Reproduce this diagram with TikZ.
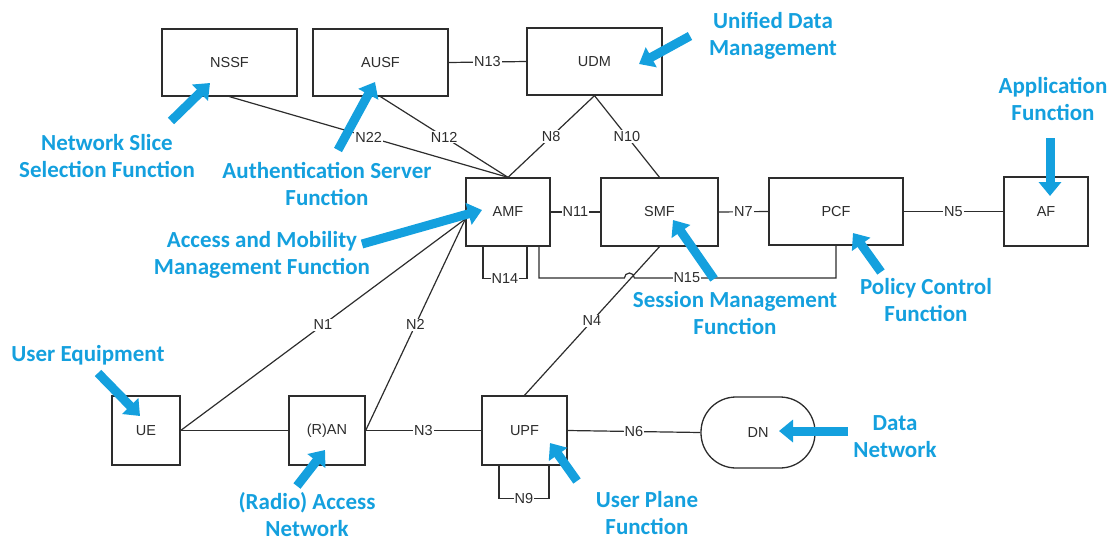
\documentclass[tikz,border=0pt]{standalone}
\usepackage{fontspec}
\setmainfont{Liberation Sans}
\newfontfamily\notefont{Carlito}
\usetikzlibrary{arrows.meta,calc}
\definecolor{nfline}{RGB}{45,45,45}
\definecolor{noteblue}{RGB}{20,160,222}

\tikzset{
  nf/.style={draw=nfline, line width=1.3pt, fill=white, inner sep=0pt,
    text=nfline, font=\fontsize{14.5}{16}\selectfont},
  link/.style={draw=nfline, line width=1.2pt},
  lbl/.style={fill=white, inner sep=1pt, text=nfline,
    font=\fontsize{14.5}{16}\selectfont},
  note/.style={text=noteblue, align=center, inner sep=0pt,
    font=\notefont\bfseries\fontsize{23}{27}\selectfont},
  pointer/.style={draw=noteblue, line width=9pt,
    -{Triangle[length=14pt,width=22pt]}},
}

\begin{document}
\begin{tikzpicture}[x=1pt,y=-1pt]
\useasboundingbox (0,0) rectangle (1110,544);

% network functions
\node[nf, minimum width=135pt, minimum height=67pt] (NSSF) at (229.5,62.5) {NSSF};
\node[nf, minimum width=135pt, minimum height=67pt] (AUSF) at (380.5,62.5) {AUSF};
\node[nf, minimum width=135pt, minimum height=67pt] (UDM)  at (594.5,61.5) {UDM};
\node[nf, minimum width=84pt,  minimum height=68pt] (AMF)  at (508,212) {AMF};
\node[nf, minimum width=117pt, minimum height=68pt] (SMF)  at (659.5,212) {SMF};
\node[nf, minimum width=134pt, minimum height=67pt] (PCF)  at (836,211.5) {PCF};
\node[nf, minimum width=84pt,  minimum height=69pt] (AF)   at (1046,211.5) {AF};
\node[nf, minimum width=68pt,  minimum height=69pt] (UE)   at (146,430.5) {UE};
\node[nf, minimum width=76pt,  minimum height=69pt] (RAN)  at (327,430.5) {(R)AN};
\node[nf, minimum width=85pt,  minimum height=69pt] (UPF)  at (524.5,430.5) {UPF};
\node[nf, minimum width=114pt, minimum height=71pt, rounded corners=35pt] (DN) at (758,432.5) {DN};

% reference points
\coordinate (amfIn) at ([yshift=-7pt]AMF.west);
\coordinate (hopL) at (624.4,278);
\coordinate (hopR) at (634.4,278);

% service interfaces
\draw[link] (NSSF.south) -- node[lbl]{N22} (AMF.north);
\draw[link] (AUSF.south) -- node[lbl]{N12} (AMF.north);
\draw[link] (UDM.south) -- node[lbl]{N8} (AMF.north);
\draw[link] (UDM.south) -- node[lbl]{N10} (SMF.north);
\draw[link] (AUSF.east) -- node[lbl]{N13} (UDM.west);
\draw[link] (AMF.east) -- node[lbl]{N11} (SMF.west);
\draw[link] (SMF.east) -- node[lbl]{N7} (PCF.west);
\draw[link] (PCF.east) -- node[lbl]{N5} (AF.west);
\draw[link] (UE.east) -- node[lbl]{N1} (amfIn);
\draw[link] (RAN.east) -- node[lbl]{N2} (amfIn);
\draw[link] (UE.east) -- (RAN.west);
\draw[link] (RAN.east) -- node[lbl]{N3} (UPF.west);
\draw[link] (UPF.east) -- node[lbl]{N6} (DN.west);
\draw[link] (SMF.south) -- node[lbl]{N4} (UPF.north);

% loops and the N15 path hopping over N4
\draw[link] ([xshift=-25pt]AMF.south) |- node[lbl,pos=0.75]{N14}
  ([xshift=19pt,yshift=-32pt]AMF.south) -- ([xshift=19pt]AMF.south);
\draw[link] ([xshift=-25.5pt]UPF.south) |- node[lbl,pos=0.75]{N9}
  ([xshift=24.5pt,yshift=-33pt]UPF.south) -- ([xshift=24.5pt]UPF.south);
\draw[link] ([xshift=31pt]AMF.south) |- (hopL)
  arc[start angle=180, end angle=360, radius=5]
  -- node[lbl,pos=0.26]{N15} (PCF.south |- hopR) -- (PCF.south);

% annotations
\node[note] (tUDM)  at (773,35.5)  {Unified Data\\Management};
\node[note] (tAF)   at (1053,99)   {Application\\Function};
\node[note] (tNSSF) at (107,156.5) {Network Slice\\Selection Function};
\node[note] (tAUSF) at (327,183.5) {Authentication Server\\Function};
\node[note] (tAMF)  at (262,254.5) {Access and Mobility\\Management Function};
\node[note] (tSMF)  at (735,313.5) {Session Management\\Function};
\node[note] (tPCF)  at (926,300.5) {Policy Control\\Function};
\node[note] (tUE)   at (88,355)    {User Equipment};
\node[note] (tRAN)  at (307,515)   {(Radio) Access\\Network};
\node[note] (tUPF)  at (647,513.5) {User Plane\\Function};
\node[note] (tDN)   at (895,436.5) {Data\\Network};

\coordinate (aUDM0)  at (690,36);    \coordinate (aUDM1)  at (639,64);
\coordinate (aAF0)   at (1050,138);  \coordinate (aAF1)   at (1050,196);
\coordinate (aNSSF0) at (171,121);   \coordinate (aNSSF1) at (210,83);
\coordinate (aAUSF0) at (338,150);   \coordinate (aAUSF1) at (375,82);
\coordinate (aAMF0)  at (362,244);   \coordinate (aAMF1)  at (482,210);
\coordinate (aSMF0)  at (714,279);   \coordinate (aSMF1)  at (673,220);
\coordinate (aPCF0)  at (881,272);   \coordinate (aPCF1)  at (853,233);
\coordinate (aUE0)   at (98,373);    \coordinate (aUE1)   at (140,416);
\coordinate (aRAN0)  at (297,486);   \coordinate (aRAN1)  at (325,450);
\coordinate (aUPF0)  at (577,481);   \coordinate (aUPF1)  at (550,443);
\coordinate (aDN0)   at (848,431);   \coordinate (aDN1)   at (779,431);

\foreach \n in {UDM,AF,NSSF,AUSF,AMF,SMF,PCF,UE,RAN,UPF,DN}
  \draw[pointer] (a\n0) -- (a\n1);
\end{tikzpicture}
\end{document}
